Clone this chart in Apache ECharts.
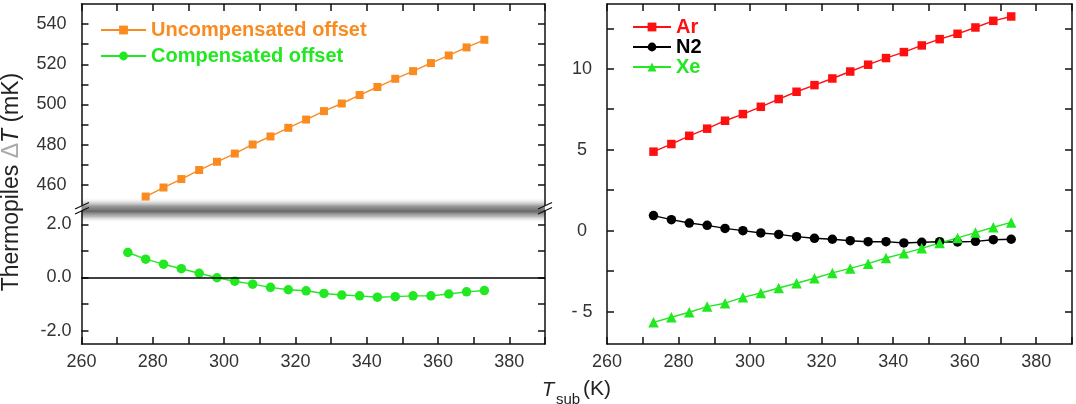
<!DOCTYPE html>
<html>
<head>
<meta charset="utf-8">
<script src="https://cdn.jsdelivr.net/npm/echarts@6/dist/echarts.min.js"></script>
<style>
html,body{margin:0;padding:0;background:#fff;}
#chart{width:1076px;height:404px;}
</style>
</head>
<body>
<div id="chart"></div>
<script>
// ---- data ----
const tempsSub = [273, 278, 283, 288, 293, 298, 303, 308, 313, 318, 323, 328, 333, 338, 343, 348, 353, 358, 363, 368, 373];
const tempsUncomp = [278, 283, 288, 293, 298, 303, 308, 313, 318, 323, 328, 333, 338, 343, 348, 353, 358, 363, 368, 373];
const uncompensatedOffset = [454.2, 458.7, 462.9, 467.4, 471.5, 475.6, 480.1, 484.1, 488.4, 492.5, 496.7, 500.5, 504.7, 508.7, 512.8, 516.6, 520.6, 524.4, 528.4, 532.2];
const compensatedOffset = [0.94, 0.69, 0.50, 0.33, 0.16, -0.01, -0.14, -0.25, -0.37, -0.46, -0.50, -0.60, -0.66, -0.69, -0.74, -0.72, -0.69, -0.69, -0.62, -0.54, -0.49];
const arValues = [4.88, 5.35, 5.86, 6.30, 6.79, 7.20, 7.65, 8.13, 8.58, 8.99, 9.40, 9.83, 10.25, 10.66, 11.03, 11.44, 11.83, 12.16, 12.55, 12.96, 13.23];
const n2Values = [0.93, 0.68, 0.47, 0.33, 0.14, 0.00, -0.14, -0.23, -0.37, -0.47, -0.53, -0.62, -0.68, -0.68, -0.76, -0.72, -0.68, -0.70, -0.66, -0.56, -0.53];
const xeValues = [-5.66, -5.35, -5.04, -4.69, -4.48, -4.12, -3.85, -3.54, -3.25, -2.94, -2.61, -2.33, -2.04, -1.69, -1.40, -1.09, -0.76, -0.45, -0.12, 0.21, 0.51];

// ---- ticks / labels ----
const xTickValues = [260, 270, 280, 290, 300, 310, 320, 330, 340, 350, 360, 370, 380, 390];
const xTickLabels = [260, 280, 300, 320, 340, 360, 380];
const upperTickValues = [460, 470, 480, 490, 500, 510, 520, 530, 540];
const upperTickLabels = [460, 480, 500, 520, 540];
const lowerTickValues = [-2, -1, 0, 1, 2];
const lowerTickLabels = [-2, 0, 2];
const rightTickValues = [-5, -2.5, 0, 2.5, 5, 7.5, 10, 12.5];
const rightTickLabels = [-5, 0, 5, 10];

const FONT = 'Liberation Sans, Arial, Helvetica, sans-serif';
const AXIS_COLOR = '#111';
const LABEL_COLOR = '#333';
const ORANGE = '#F98B20';
const GREEN = '#22E822';
const RED = '#FF1010';

function pair(xs, ys) { return xs.map((x, i) => [x, ys[i]]); }

function axisBase(opts) {
  return {
    type: 'value',
    min: opts.min, max: opts.max,
    gridIndex: opts.grid,
    position: opts.position,
    axisLine: { show: opts.line !== false, onZero: false, lineStyle: { color: AXIS_COLOR, width: 1.5 } },
    axisTick: { show: !!opts.ticks, inside: true, length: 7, customValues: opts.ticks, lineStyle: { color: AXIS_COLOR, width: 1.5 } },
    axisLabel: { show: !!opts.labels, customValues: opts.labels, color: LABEL_COLOR, fontSize: 18, fontFamily: FONT, margin: opts.margin || 9, formatter: opts.formatter, align: opts.align },
    splitLine: { show: false },
    silent: true
  };
}

const chart = echarts.init(document.getElementById('chart'), null, { renderer: 'canvas' });

const option = {
  animation: false,
  backgroundColor: '#fff',
  grid: [
    { left: 81.5, top: 4, width: 463.5, height: 201 },
    { left: 81.5, top: 211, width: 463.5, height: 133 },
    { left: 607, top: 4, width: 465, height: 340 }
  ],
  xAxis: [
    axisBase({ grid: 0, min: 260, max: 390, position: 'bottom', line: false }),
    axisBase({ grid: 0, min: 260, max: 390, position: 'top', ticks: xTickValues }),
    axisBase({ grid: 1, min: 260, max: 390, position: 'bottom', ticks: xTickValues, labels: xTickLabels, margin: 9 }),
    axisBase({ grid: 2, min: 260, max: 390, position: 'bottom', ticks: xTickValues, labels: xTickLabels, margin: 9 }),
    axisBase({ grid: 2, min: 260, max: 390, position: 'top', ticks: xTickValues })
  ],
  yAxis: [
    axisBase({ grid: 0, min: 450, max: 550, position: 'left', ticks: upperTickValues, labels: upperTickLabels, margin: 15 }),
    axisBase({ grid: 0, min: 450, max: 550, position: 'right', ticks: upperTickValues }),
    axisBase({ grid: 1, min: -2.5, max: 2.5, position: 'left', ticks: lowerTickValues, labels: lowerTickLabels, margin: 10, formatter: v => v.toFixed(1) }),
    axisBase({ grid: 1, min: -2.5, max: 2.5, position: 'right', ticks: lowerTickValues }),
    axisBase({ grid: 2, min: -7, max: 14, position: 'left', ticks: rightTickValues, labels: rightTickLabels, margin: 25, align: 'center', formatter: v => (v < 0 ? '- ' + (-v) : String(v)) }),
    axisBase({ grid: 2, min: -7, max: 14, position: 'right', ticks: rightTickValues })
  ],
  legend: [
    {
      orient: 'vertical', left: 100, top: 20, padding: 0, itemWidth: 45, itemHeight: 11, itemGap: 6,
      textStyle: { fontSize: 20, fontWeight: 'bold', fontFamily: FONT },
      data: [
        { name: 'Uncompensated offset', textStyle: { color: ORANGE } },
        { name: 'Compensated offset', textStyle: { color: GREEN } }
      ]
    },
    {
      orient: 'vertical', left: 632, top: 17, padding: 0, itemWidth: 38, itemHeight: 11, itemGap: 0,
      textStyle: { fontSize: 20, fontWeight: 'bold', fontFamily: FONT },
      data: [
        { name: 'Ar', textStyle: { color: RED } },
        { name: 'N2', textStyle: { color: '#000' } },
        { name: 'Xe', textStyle: { color: GREEN } }
      ]
    }
  ],
  series: [
    {
      name: 'Uncompensated offset', type: 'line', xAxisIndex: 0, yAxisIndex: 0,
      data: pair(tempsUncomp, uncompensatedOffset),
      symbol: 'rect', symbolSize: 8, color: ORANGE,
      lineStyle: { color: ORANGE, width: 1.4 }, itemStyle: { color: ORANGE }
    },
    {
      name: 'Compensated offset', type: 'line', xAxisIndex: 2, yAxisIndex: 2,
      data: pair(tempsSub, compensatedOffset),
      symbol: 'circle', symbolSize: 9.5, color: GREEN,
      lineStyle: { color: GREEN, width: 1.4 }, itemStyle: { color: GREEN },
      markLine: {
        silent: true, symbol: 'none', label: { show: false },
        lineStyle: { color: '#000', width: 1.6, type: 'solid' },
        data: [{ yAxis: 0 }]
      }
    },
    {
      name: 'Ar', type: 'line', xAxisIndex: 3, yAxisIndex: 4,
      data: pair(tempsSub, arValues),
      symbol: 'rect', symbolSize: 8.5, color: RED,
      lineStyle: { color: RED, width: 1.4 }, itemStyle: { color: RED }
    },
    {
      name: 'N2', type: 'line', xAxisIndex: 3, yAxisIndex: 4,
      data: pair(tempsSub, n2Values),
      symbol: 'circle', symbolSize: 9.5, color: '#000',
      lineStyle: { color: '#000', width: 1.4 }, itemStyle: { color: '#000' }
    },
    {
      name: 'Xe', type: 'line', xAxisIndex: 3, yAxisIndex: 4,
      data: pair(tempsSub, xeValues),
      symbol: 'triangle', symbolSize: 10.5, color: GREEN,
      lineStyle: { color: GREEN, width: 1.4 }, itemStyle: { color: GREEN }
    }
  ],
  graphic: [
    // axis break band
    {
      type: 'rect', z: -1, silent: true,
      shape: { x: 81.5, y: 197, width: 463.5, height: 26 },
      style: {
        fill: new echarts.graphic.LinearGradient(0, 0, 0, 1, [
          { offset: 0, color: 'rgba(255,255,255,0)' },
          { offset: 0.35, color: 'rgba(120,120,120,0.75)' },
          { offset: 0.55, color: 'rgba(95,95,95,0.95)' },
          { offset: 0.75, color: 'rgba(140,140,140,0.6)' },
          { offset: 1, color: 'rgba(255,255,255,0)' }
        ])
      }
    },
    // break marks left
    { type: 'line', z: 10, silent: true, shape: { x1: 75, y1: 209, x2: 89, y2: 202.5 }, style: { stroke: '#111', lineWidth: 1.3 } },
    { type: 'line', z: 10, silent: true, shape: { x1: 75, y1: 214, x2: 89, y2: 207.5 }, style: { stroke: '#111', lineWidth: 1.3 } },
    // break marks right
    { type: 'line', z: 10, silent: true, shape: { x1: 538, y1: 209, x2: 552, y2: 202.5 }, style: { stroke: '#111', lineWidth: 1.3 } },
    { type: 'line', z: 10, silent: true, shape: { x1: 538, y1: 214, x2: 552, y2: 207.5 }, style: { stroke: '#111', lineWidth: 1.3 } },
    // y axis title
    {
      type: 'text', silent: true, x: 12, y: 182, rotation: Math.PI / 2,
      style: {
        text: '{a|Thermopiles }{d|Δ}{i|T}{a| (mK)}',
        align: 'center', verticalAlign: 'middle',
        rich: {
          a: { fontSize: 23, fontFamily: FONT, fill: '#222' },
          d: { fontSize: 23, fontFamily: FONT, fill: '#aaa' },
          i: { fontSize: 23, fontFamily: FONT, fontStyle: 'italic', fill: '#222' }
        }
      }
    },
    // x axis title
    { type: 'text', silent: true, x: 542, y: 380, style: { text: 'T', fontSize: 20, fontStyle: 'italic', fontFamily: FONT, fill: '#222', align: 'left', verticalAlign: 'top' } },
    { type: 'text', silent: true, x: 556, y: 392, style: { text: 'sub', fontSize: 15, fontFamily: FONT, fill: '#222', align: 'left', verticalAlign: 'top' } },
    { type: 'text', silent: true, x: 583, y: 379, style: { text: '(K)', fontSize: 21, fontFamily: FONT, fill: '#222', align: 'left', verticalAlign: 'top' } }
  ]
};

chart.setOption(option);
</script>
</body>
</html>
